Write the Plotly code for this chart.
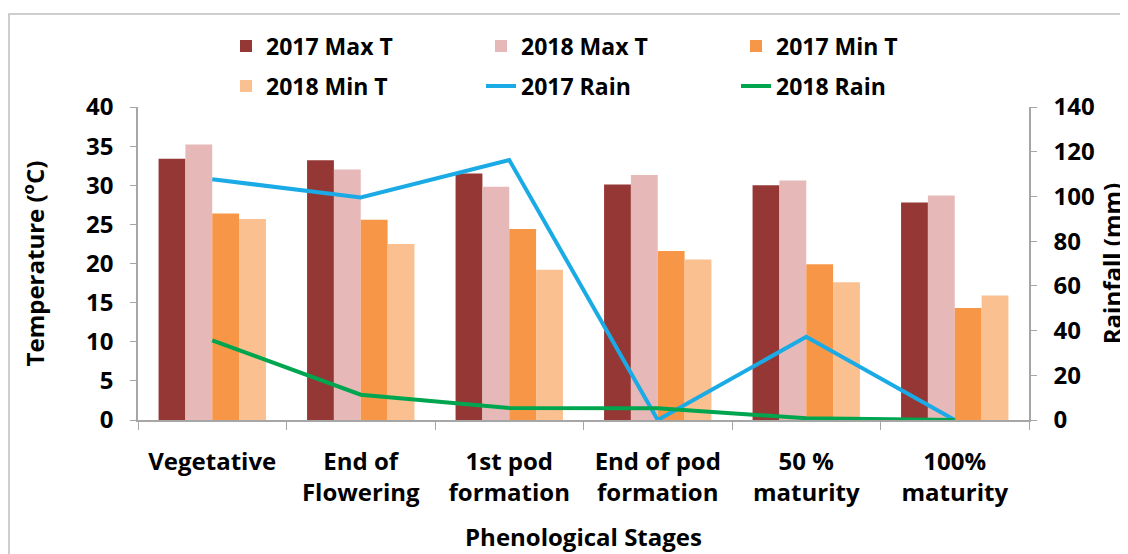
import plotly.graph_objects as go

stages = ["Vegetative", "End of<br>Flowering", "1st pod<br>formation",
          "End of pod<br>formation", "50 %<br>maturity", "100%<br>maturity"]
max_t_2017 = [33.4, 33.2, 31.5, 30.1, 30.0, 27.8]
max_t_2018 = [35.2, 32.0, 29.8, 31.3, 30.6, 28.7]
min_t_2017 = [26.4, 25.6, 24.4, 21.6, 19.9, 14.3]
min_t_2018 = [25.7, 22.5, 19.2, 20.5, 17.6, 15.9]
rain_2017 = [107.7, 99.5, 116.3, 0.0, 37.2, 0.0]
rain_2018 = [35.6, 11.3, 5.4, 5.2, 0.8, 0.0]

FONT = "'Open Sans', Lato, 'Liberation Sans', sans-serif"
FS = 23

fig = go.Figure()
bars = [("2017 Max T", max_t_2017, "#953735", "legend"),
        ("2018 Max T", max_t_2018, "#E6B9B8", "legend"),
        ("2017 Min T", min_t_2017, "#F79646", "legend"),
        ("2018 Min T", min_t_2018, "#FAC090", "legend2")]
for name, vals, col, lg in bars:
    fig.add_trace(go.Bar(x=stages, y=vals, name=name, marker_color=col,
                         marker_line_width=0, legend=lg))
for name, vals, col in [("2017 Rain", rain_2017, "#1AABE6"),
                        ("2018 Rain", rain_2018, "#00A64F")]:
    fig.add_trace(go.Scatter(x=stages, y=vals, name=name, mode="lines",
                             line=dict(color=col, width=4), yaxis="y2",
                             legend="legend2"))

# page has an 8px body margin: target pixel positions are shifted by -8
OFF = 8
L, R, T, B = 138 - OFF, 1029 - OFF, 107 - OFF, 420 - OFF
W, H = 1120, 546
pw, ph = R - L, B - T

def px_x(x):
    return (x - OFF - L) / pw

def px_y(y):
    return 1 - (y - OFF - T) / ph

legend_common = dict(orientation="h", xanchor="left", yanchor="middle",
                     entrywidth=210, entrywidthmode="pixels",
                     font=dict(family=FONT, size=FS, color="black", weight="bold"),
                     bgcolor="rgba(0,0,0,0)", traceorder="normal")

bold24 = dict(family=FONT, size=24, weight="bold", color="black")

fig.update_layout(
    width=W, height=H,
    margin=dict(l=L, r=W - R, t=T, b=H - B, autoexpand=False),
    paper_bgcolor="white", plot_bgcolor="white",
    barmode="group", bargap=0.277, bargroupgap=0,
    font=dict(family=FONT, size=FS, color="black"),
    showlegend=True,
    legend=dict(x=px_x(226), y=px_y(46), **legend_common),
    legend2=dict(x=px_x(226), y=px_y(86), **legend_common),
    xaxis=dict(showline=True, linecolor="#A6A6A6", linewidth=1.5,
               ticks="outside", tickson="boundaries", ticklen=8,
               tickcolor="#A6A6A6", showgrid=False,
               ticklabelstandoff=19,
               tickfont=bold24,
               title=dict(text="Phenological Stages", standoff=22, font=bold24)),
    yaxis=dict(range=[0, 40], dtick=5, showline=True, linecolor="#A6A6A6",
               linewidth=1.5, ticks="outside", ticklen=6, tickcolor="#A6A6A6",
               showgrid=False, zeroline=False, ticklabelstandoff=12,
               tickfont=bold24,
               title=dict(text="Temperature (<sup>o</sup>C)", standoff=35,
                          font=bold24)),
    yaxis2=dict(range=[0, 140], dtick=20, overlaying="y", side="right",
                showline=True, linecolor="#A6A6A6", linewidth=1.5,
                ticks="outside", ticklen=6, tickcolor="#A6A6A6",
                showgrid=False, zeroline=False, ticklabelstandoff=12,
                tickfont=bold24,
                title=dict(text="Rainfall (mm)", standoff=25, font=bold24)),
    shapes=[dict(type="rect", xref="paper", yref="paper",
                 x0=(1 - L) / pw, x1=px_x(1140),
                 y0=px_y(570), y1=px_y(14),
                 line=dict(color="#BFBFBF", width=1.5), layer="below")],
)

fig.write_html("out.html")
